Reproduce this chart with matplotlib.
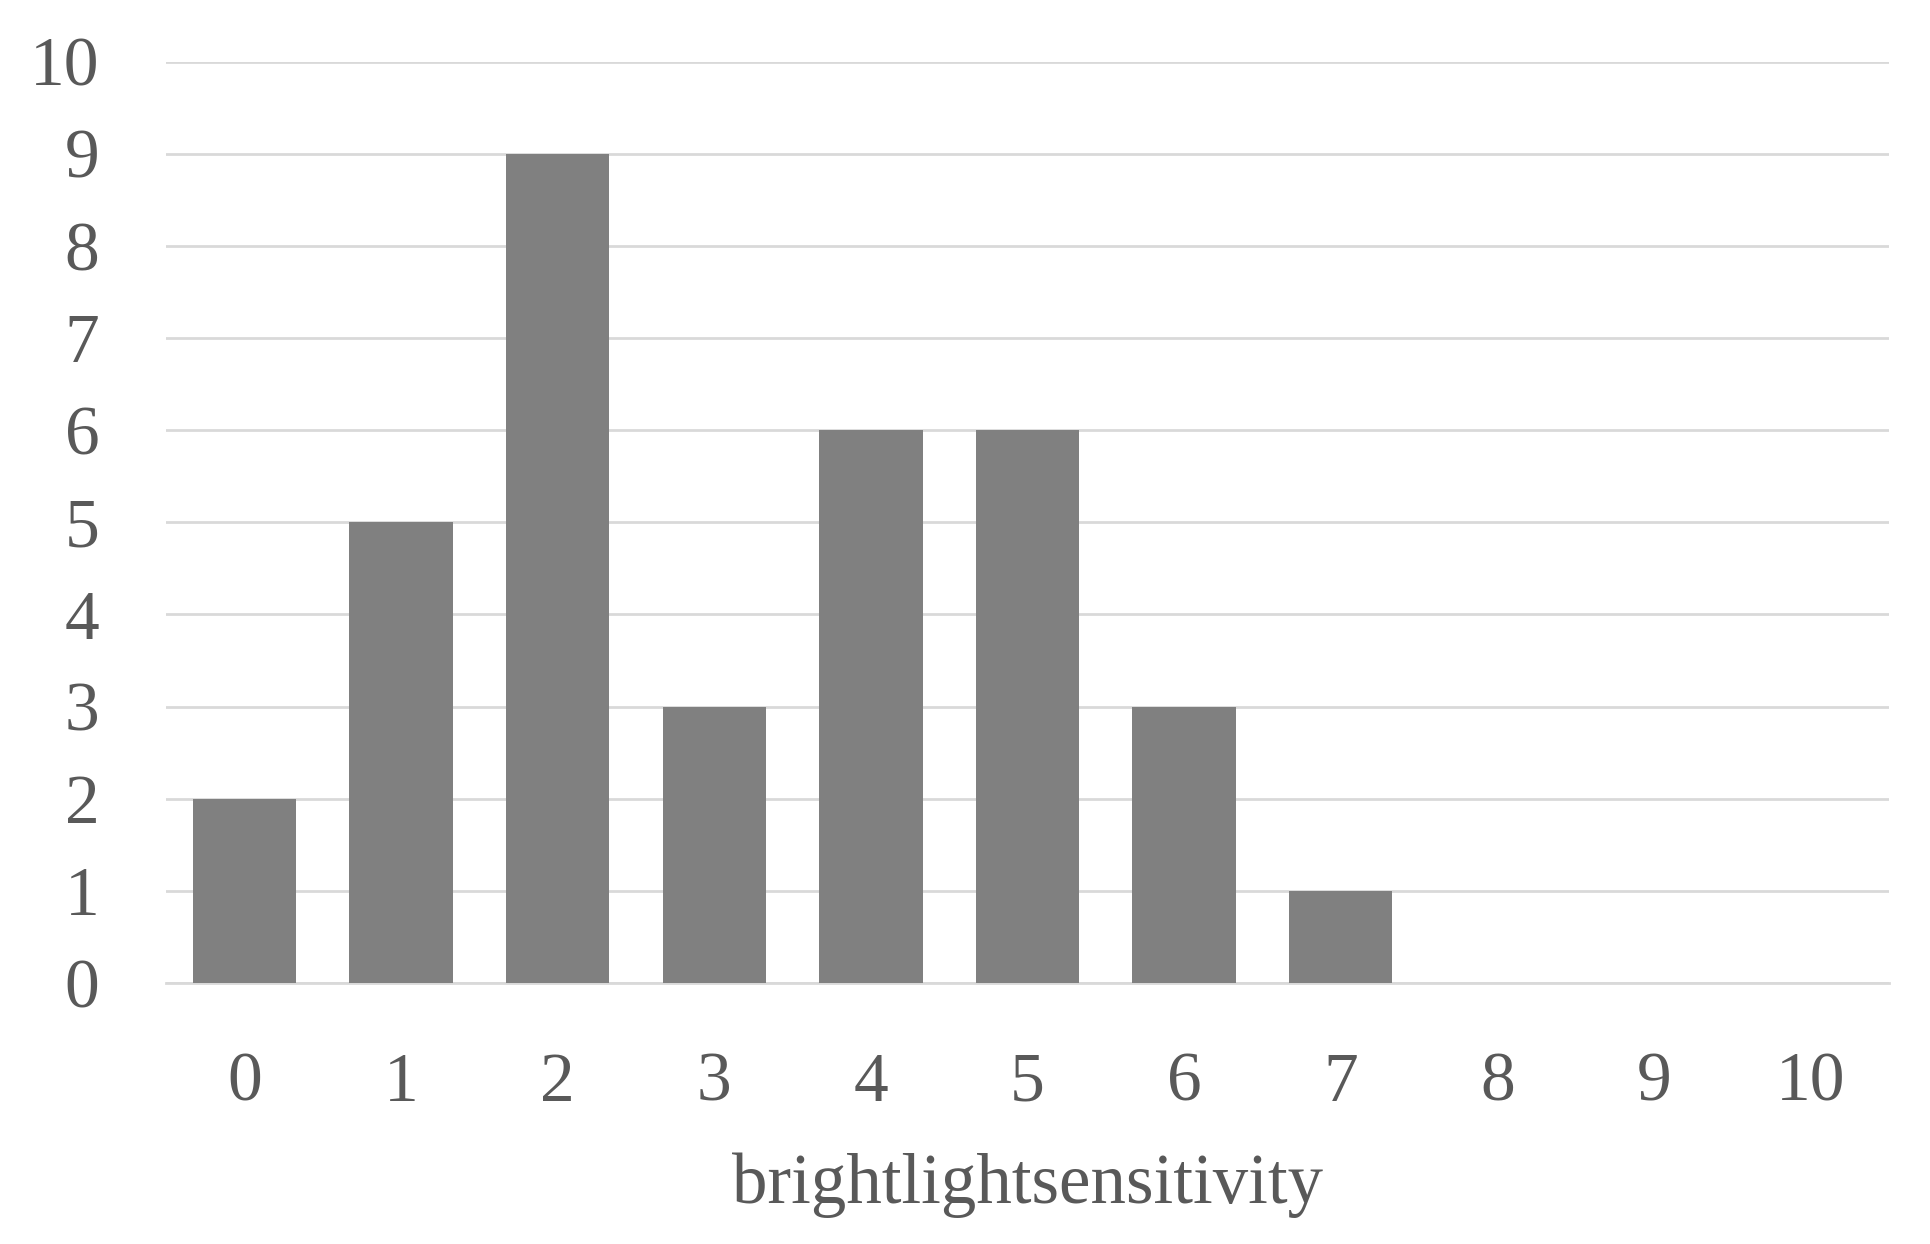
import matplotlib.pyplot as plt

categories = [0, 1, 2, 3, 4, 5, 6, 7, 8, 9, 10]
counts = [2, 5, 9, 3, 6, 6, 3, 1, 0, 0, 0]
x_label = "brightlightsensitivity"

text_color = "#595959"
plt.rcParams['font.family'] = ['Liberation Serif', 'DejaVu Serif']

fig = plt.figure(figsize=(19.30, 12.44), dpi=100)
ax = fig.add_axes([166 / 1930, 1 - 983 / 1244, (1889 - 166) / 1930, (983 - 61.5) / 1244])

ax.bar(categories, counts, width=0.66, color="#808080", zorder=3)

ax.set_xlim(-0.5, len(categories) - 0.5)
ax.set_ylim(0, 10)
ax.set_yticks(range(0, 11))
ax.set_xticks(categories)
ax.set_xticklabels([str(c) for c in categories])

ax.grid(axis='y', color="#d9d9d9", linewidth=2, zorder=0)
ax.set_axisbelow(True)
for s in ['top', 'right', 'left']:
    ax.spines[s].set_visible(False)
ax.spines['bottom'].set_color("#d9d9d9")
ax.spines['bottom'].set_linewidth(2)

ax.tick_params(axis='both', length=0, labelsize=50, colors=text_color)
ax.tick_params(axis='y', pad=48)
ax.tick_params(axis='x', pad=50)

ax.set_xlabel(x_label, fontsize=51, color=text_color, labelpad=26)

fig.savefig("out.png", dpi=100, facecolor="white")
